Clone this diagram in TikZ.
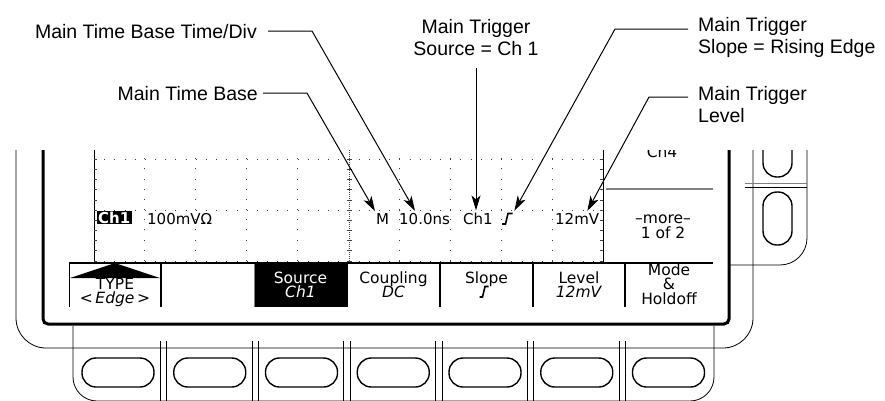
\documentclass[tikz,border=0pt]{standalone}
\usepackage{fontspec}
\setmainfont{Liberation Sans}
\newfontfamily\scrfont{DejaVu Sans}[ItalicFont={DejaVu Sans Oblique},BoldFont={DejaVu Sans Bold}]
\usetikzlibrary{arrows.meta}
\newcommand{\mnufont}[1]{\scrfont\fontsize{15.5}{#1}\selectfont\lineskiplimit=-100pt\relax}
\begin{document}
\begin{tikzpicture}[x=1pt,y=-1pt,
  lbl/.style={font=\fontsize{19.5}{22}\selectfont, inner sep=0pt},
  scr/.style={font=\scrfont\fontsize{15}{15}\selectfont, inner sep=0pt, anchor=base west},
  mnu/.style={font=\mnufont{14.3}, inner sep=0pt, align=center, anchor=north},
  arr/.style={line width=1pt, -{Stealth[length=15pt,width=9pt,inset=4pt]}, shorten >=2pt},
  thinln/.style={line width=0.8pt},
  sep/.style={line width=1.6pt},
  btn/.style={draw, line width=1.4pt, rounded corners=14pt, minimum width=72pt, minimum height=29pt, inner sep=0pt},
  sbtn/.style={btn, minimum width=29pt, minimum height=53pt},
  dotln/.style={line width=1pt, black!75, dash pattern=on 1pt off 9.18pt},
  tick/.style={line width=0.8pt, black!75},
  slopesym/.style={line width=1.6pt},
]
\useasboundingbox (0,0) rectangle (885,400);

% ---------------- instrument (clipped at top) ----------------
\begin{scope}
\clip (0,150) rectangle (885,400);
% outer bezel
\draw[thinln, rounded corners=30pt] (16,140) -- (16,348) -- (753,348) -- (753,140);
% screen bezel
\draw[line width=3pt, rounded corners=5pt] (43,140) -- (43,324) -- (729,324) -- (729,140);
% bottom button housing
\draw[thinln, rounded corners=24pt] (73,326) -- (73,401) -- (714,401) -- (714,326);
\foreach \k in {0,...,5} {
  \draw[thinln] ({160.3+91.75*\k},341) -- ++(0,70);
  \draw[thinln] ({166.7+91.75*\k},341) -- ++(0,70);
}
\foreach \k [count=\n] in {0,...,6} \node[btn] (fb\n) at ({118+91.75*\k},372.5) {};
% side button housing
\draw[thinln, rounded corners=27pt] (807,140) -- (807,265) -- (730,265);
\draw[thinln, gray] (745,183) -- (807,183);
\draw[thinln] (745,187) -- (807,187);
\node[sbtn] (sb1) at (777.5,150.5) {};
\node[sbtn] (sb2) at (777.5,218.5) {};

% graticule
\foreach \k in {1,2,3,4,6,7,8,9} \draw[dotln] ({94+50.9*\k},261) -- ({94+50.9*\k},140);
\foreach \r in {159.2,210.1,261} \draw[dotln] (94,\r) -- (604,\r);
\draw[tick, dash pattern=on 0.8pt off 1.2pt] (349,261) -- (349,140);
\foreach \j in {0,...,11} \draw[tick] (346.5,{261-10.18*\j}) -- (351.5,{261-10.18*\j});
\draw[thinln] (94,140) -- (94,262);
\foreach \j in {0,...,11} \draw[tick] (94,{261-10.18*\j}) -- ++(3,0);
\draw[line width=1pt] (603,140) -- (603,263);
\foreach \j in {0,...,11} \draw[tick] (603,{261-10.18*\j}) -- ++(-3,0);

% side menu
\draw[line width=1.2pt, gray] (606,189) -- (713,189);
\node[mnu, anchor=base] (ch4) at (662,157) {Ch4};
\node[mnu, font=\mnufont{15}] (more) at (663,214.3) {–more–\\1 of 2};

% bottom menu
\fill (254,264) rectangle (347,307);
\draw[thinln, gray] (254.5,307) -- (254.5,264);
\draw[line width=2pt] (69,263) -- (713,263);
\draw[thinln] (69,263) -- (69,307);
\foreach \x in {161,347,440,533,625} \draw[sep] (\x,263) -- (\x,307);
\fill (70,278) -- (115,263) -- (160,278) -- cycle;
\node[mnu, font=\mnufont{14.2}] (mtype) at (115,277.8) {TYPE\\<\,\textit{Edge}\,>};
\node[mnu, text=white] (msrc) at (300.5,271.4) {Source\\\textit{Ch1}};
\node[mnu] (mcpl) at (393.5,271.2) {Coupling\\\textit{DC}};
\node[mnu, anchor=base] (mslp) at (486.5,283) {Slope};
\draw[slopesym] (479.5,297) -- (482.5,297) -- (485,286.5) -- (488.5,286.5);
\node[mnu] (mlvl) at (579,271.2) {Level\\\textit{12mV}};
\node[mnu, font=\mnufont{14.5}] (mmode) at (669,263.2) {Mode\\\&\\Holdoff};

% screen readouts
\node[fill=black, text=white, font=\scrfont\bfseries\fontsize{15}{15}\selectfont, inner xsep=1.5pt, inner ysep=1pt, text depth=0pt, anchor=base west] (chb) at (96.5,223) {Ch1};
\node[scr] (volt) at (147,224) {100mVΩ};
\node[scr] (tbm) at (376,224) {M};
\node[scr] (tdiv) at (399,224) {10.0ns};
\node[scr] (src) at (463,224) {Ch1};
\node[inner sep=0pt, minimum width=11pt, minimum height=12pt, anchor=north west] (slp) at (502,212.5) {};
\draw[slopesym] (502,224) -- (505.5,224) -- (508,213.5) -- (512.5,213.5);
\node[scr] (lvl) at (555,224) {12mV};
\end{scope}

% ---------------- callout labels ----------------
\node[lbl, anchor=base east] (L1) at (257,38) {Main Time Base Time/Div};
\node[lbl, anchor=base east] (L2) at (258,100) {Main Time Base};
\node[lbl, align=center, anchor=north] (L3) at (476,19) {Main Trigger\\Source = Ch 1};
\node[lbl, align=left, anchor=north west] (L4) at (698,17) {Main Trigger\\Slope = Rising Edge};
\node[lbl, align=left, anchor=north west] (L5) at (698,86) {Main Trigger\\Level};

\coordinate (e1) at (312,32);
\coordinate (e2) at (307,95);
\coordinate (s3) at (476,68);
\coordinate (s4) at (688,29);
\coordinate (e4) at (615,29);
\coordinate (s5) at (688,97);
\coordinate (e5) at (649,97);

\draw[arr] ([xshift=11pt]L1.east) -- (L1.east -| e1) -- ([xshift=17pt]tdiv.north west);
\draw[arr] ([xshift=5pt]L2.east) -- (L2.east -| e2) -- (tbm.north west);
\draw[arr] (s3) -- (s3 |- src.north);
\draw[arr] (s4) -- (e4) -- (slp.north east);
\draw[arr] (s5) -- (e5) -- ([xshift=-13pt]lvl.north east);
\end{tikzpicture}
\end{document}
